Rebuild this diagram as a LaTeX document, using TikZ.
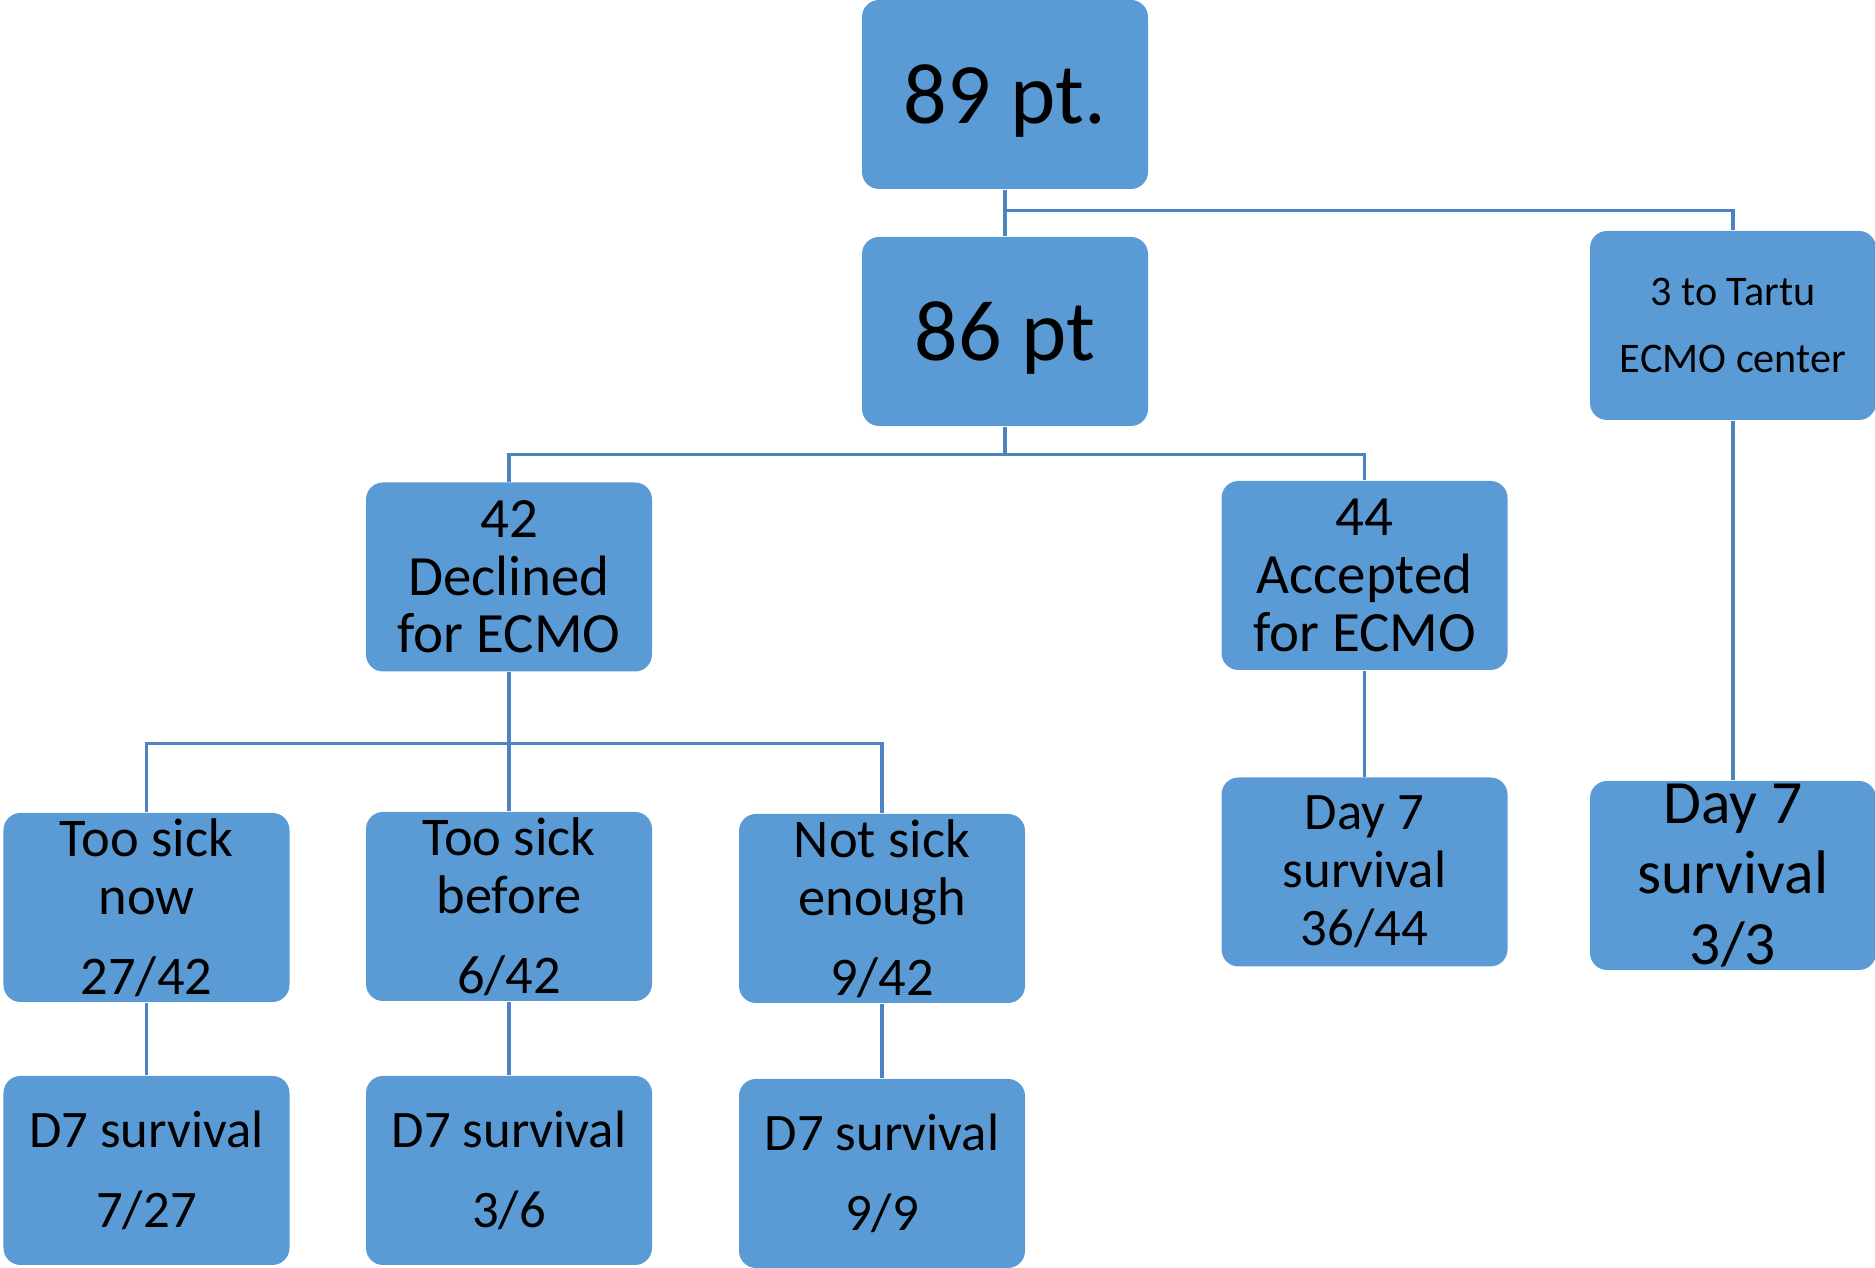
\documentclass[tikz,border=0pt]{standalone}
\usepackage{fontspec}
\setmainfont{Carlito}
\usepackage{tikz}
\usetikzlibrary{calc}
\usepackage{xcolor}
\definecolor{boxblue}{RGB}{91,155,213}
\definecolor{linkblue}{RGB}{78,131,193}
\newcommand{\bxfont}[2]{\fontsize{#1}{#2}\selectfont}
\tikzset{
  box/.style={fill=boxblue,rounded corners=0.17cm,minimum width=2.86cm,minimum height=1.89cm,align=center,inner sep=0pt,text=black},
  bigbox/.style={box,font=\bxfont{24.5}{30},text depth=0pt},
  link/.style={draw=linkblue,line width=0.9pt}
}

\begin{document}
\begin{tikzpicture}

    \coordinate (O) at (0,0);
    \useasboundingbox (O) rectangle (18.75,12.68);

    \node[bigbox] (top) at ($(O)+(10.05,11.735)$) {89 pt.};
    \node[bigbox] (all) at ($(O)+(10.05,9.365)$) {86 pt};
    \node[box,font=\bxfont{12}{19}] (tartu) at ($(O)+(17.33,9.425)$) {3 to Tartu\\ECMO center};

    \node[box,font=\bxfont{16.2}{16.4}] (declined) at ($(O)+(5.09,6.91)$) {42\\Declined\\for ECMO};
    \node[box,font=\bxfont{16.2}{16.4}] (accepted) at ($(O)+(13.645,6.925)$) {44\\Accepted\\for ECMO};

    \node[box,font=\bxfont{15.5}{16.5}] (now) at ($(O)+(1.465,3.605)$) {Too sick\\now\\[6.3pt]27/42};
    \node[box,font=\bxfont{15.5}{16.5}] (before) at ($(O)+(5.09,3.615)$) {Too sick\\before\\[6.3pt]6/42};
    \node[box,font=\bxfont{15.5}{16.5}] (enough) at ($(O)+(8.82,3.595)$) {Not sick\\enough\\[6.3pt]9/42};
    \node[box,font=\bxfont{15}{16.5}] (acc7) at ($(O)+(13.645,3.96)$) {Day 7\\survival\\36/44};
    \node[box,font=\bxfont{17.5}{20}] (tartu7) at ($(O)+(17.33,3.925)$) {Day 7\\survival\\3/3};

    \node[box,font=\bxfont{15}{22.8}] (nowsurv) at ($(O)+(1.465,0.975)$) {D7 survival\\7/27};
    \node[box,font=\bxfont{15}{22.8}] (beforesurv) at ($(O)+(5.09,0.975)$) {D7 survival\\3/6};
    \node[box,font=\bxfont{15}{22.8}] (enoughsurv) at ($(O)+(8.82,0.945)$) {D7 survival\\9/9};

    \draw[link] (top.south) -- (all.north);
    \draw[link] (top.south) -- ++(0,-0.21) coordinate (b1) -| (tartu.north);

    \draw[link] (all.south) -- ++(0,-0.28) coordinate (b2);
    \draw[link] (declined.north) |- (b2) -| (accepted.north);

    \draw[link] (declined.south) -- (before.north);
    \draw[link] (declined.south) -- ++(0,-0.715) coordinate (b3);
    \draw[link] (now.north) |- (b3) -| (enough.north);

    \draw[link] (accepted.south) -- (acc7.north);
    \draw[link] (tartu.south) -- (tartu7.north);

    \draw[link] (now.south) -- (nowsurv.north);
    \draw[link] (before.south) -- (beforesurv.north);
    \draw[link] (enough.south) -- (enoughsurv.north);

\end{tikzpicture}
\end{document}
